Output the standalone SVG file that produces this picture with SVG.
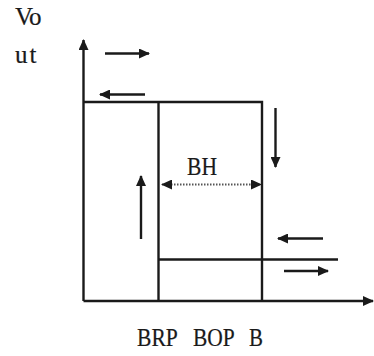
<svg xmlns="http://www.w3.org/2000/svg" width="374" height="356" viewBox="0 0 374 356">
<defs>
<style>
.ln{stroke:#1a1a1a;stroke-width:2.4;fill:none}
.ar{stroke:#1a1a1a;stroke-width:2.4;fill:none;marker-end:url(#ah)}
.dot{stroke:#555;stroke-width:2;stroke-dasharray:1.5 1.5;fill:none;marker-start:url(#ahs);marker-end:url(#ah)}
.t{font-family:"Liberation Serif","Times New Roman",serif;font-size:25px;fill:#1a1a1a;stroke:#1a1a1a;stroke-width:0.2}
</style>
<marker id="ah" markerUnits="userSpaceOnUse" markerWidth="12" markerHeight="10" refX="10" refY="5" orient="auto">
<path d="M0,0 L11,5 L0,10 Z" fill="#1a1a1a"/>
</marker>
<marker id="ahs" markerUnits="userSpaceOnUse" markerWidth="12" markerHeight="10" refX="1" refY="5" orient="auto">
<path d="M11,0 L0,5 L11,10 Z" fill="#1a1a1a"/>
</marker>
</defs>
<rect width="374" height="356" fill="#fff"/>
<g id="axes">
<path class="ar" d="M83.5,301 V40"/>
<path class="ar" d="M83.5,301 H373"/>
</g>
<g id="loop">
<path class="ln" d="M83.5,102 H262 V301"/>
<path class="ln" d="M158.5,102 V301"/>
<path class="ln" d="M158.5,259.5 H338"/>
</g>
<g id="connectors">
<path class="ar" d="M105,53.5 H149"/>
<path class="ar" d="M145,94.5 H100"/>
<path class="ar" d="M275.5,108 V167"/>
<path class="ar" d="M141,239 V176"/>
<path class="dot" d="M162,184.5 H261"/>
<path class="ar" d="M323,238.5 H278"/>
<path class="ar" d="M284,271 H328"/>
</g>
<g id="labels">
<text class="t" x="15 29" y="25">Vo</text>
<text class="t" x="15 29.5" y="63">ut</text>
<text class="t" x="187" y="175" textLength="30" lengthAdjust="spacingAndGlyphs">BH</text>
<text class="t" y="346"><tspan x="137" textLength="40" lengthAdjust="spacingAndGlyphs">BRP</tspan> <tspan x="193" textLength="41" lengthAdjust="spacingAndGlyphs">BOP</tspan> <tspan x="249" textLength="14" lengthAdjust="spacingAndGlyphs">B</tspan></text>
</g>
</svg>
